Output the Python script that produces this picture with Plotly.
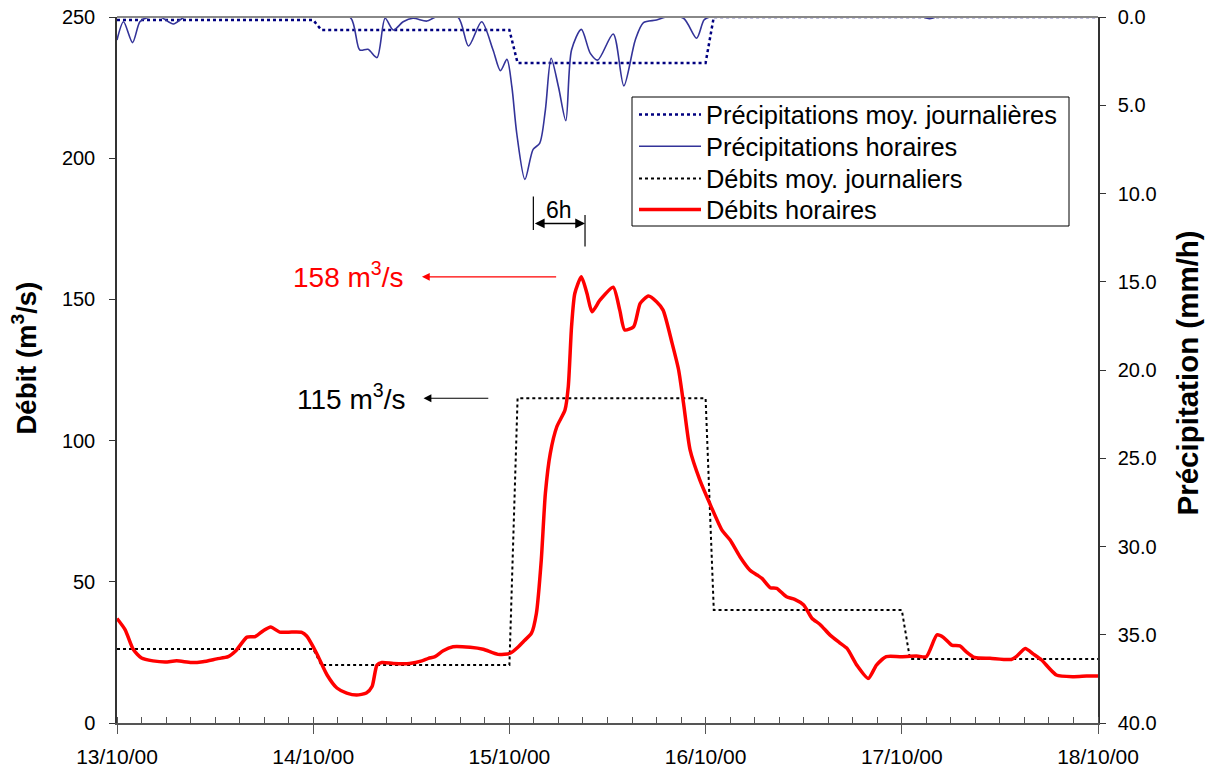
import plotly.graph_objects as go

# ---------------- data ----------------
tick_hours = [0, 24, 48, 72, 96, 120]
tick_labels = ["13/10/00", "14/10/00", "15/10/00", "16/10/00", "17/10/00", "18/10/00"]

# hourly discharge (m3/s), time in hours since 13/10/00 00:00
flow_t = [0, 1, 2, 3, 4.4, 5.9, 7.3, 9.1, 10.5, 12.2,
          13.6, 14.6, 15.9, 16.9, 17.9, 18.8, 19.9, 21.4, 22.6, 23.2,
          24.4, 25.7, 26.9, 28.1, 29.3, 30.5, 31.2, 31.8, 32.4, 33.8,
          35.8, 37.3, 38.1, 38.9, 39.9, 41.1, 43.2, 44.8, 46.6, 48.1,
          49.1, 49.7, 50.7, 51.3, 51.9, 52.4, 53.0, 53.8, 54.8, 55.2,
          55.6, 56.0, 56.8, 57.5, 58.1, 59.1, 60.7, 61.5, 62.1, 63.2,
          64.0, 65.0, 66.0, 66.8, 67.9, 68.7, 69.3, 70.1, 71.3, 72.5,
          74.0, 75.0, 76.2, 77.4, 78.3, 78.9, 79.9, 80.7, 81.9, 82.9,
          84.0, 85.0, 86.0, 87.2, 88.4, 89.3, 90.5, 91.9, 92.9, 94.1,
          95.8, 97.8, 99.0, 100.3, 101.1, 102.1, 103.1, 103.9, 104.9, 106.8,
          109.4, 110.0, 111.1, 112.1, 113.1, 114.9, 117.0, 118.6, 120]
flow_v = [37, 33, 26, 23, 22, 21.6, 22, 21.4, 21.7, 22.7,
          23.5, 25.8, 30.4, 30.6, 32.7, 34, 32.2, 32.2, 32.1, 30.8,
          24.8, 17, 12.4, 10.6, 9.9, 10.6, 12.9, 20.5, 21.4, 21.1,
          21.1, 22, 22.9, 23.5, 25.6, 27, 26.8, 26.1, 24.3, 24.7,
          27, 28.8, 31.8, 38.8, 57.7, 81.3, 95.5, 104.9, 110.8, 119,
          140.3, 152.1, 158, 152, 145.6, 149.8, 154.3, 146.2, 139.2, 140.3,
          148.6, 151.2, 149.2, 146.2, 134.5, 125, 113.2, 96.7, 86, 77.8,
          68.3, 64.8, 58.9, 54.2, 52.4, 51.2, 47.9, 47.7, 44.7, 43.8,
          41.8, 37.1, 34.9, 31.2, 28.4, 26.4, 20.5, 15.8, 20.5, 23.5,
          23.5, 23.7, 23.5, 31.2, 30.3, 27.6, 27.3, 25.2, 23.2, 22.9,
          22.5, 23.5, 26.4, 24.4, 22.3, 17, 16.4, 16.6, 16.6]

# hourly precipitation (mm/h)
rain_t = [0, 0.8, 1.9, 2.8, 3.6, 5.3, 6.9, 8.3, 12, 18,
          24, 28.5, 29.7, 30.7, 31.8, 32.8, 33.8, 35, 36.2, 37.9,
          39, 41.7, 43, 44.6, 46, 46.9, 47.7, 48.3, 48.9, 49.9,
          50.9, 51.7, 52.4, 53.1, 54, 54.9, 55.6, 56.8, 57.9, 58.8,
          60.7, 62, 63.4, 64.4, 66, 67.2, 69.3, 70.9, 71.8, 72.5,
          80, 90, 98.5, 99.4, 100.3, 110, 120]
rain_v = [1.3, 0.27, 1.45, 0.27, 0.05, 0, 0.4, 0, 0, 0,
          0, 0, 1.87, 1.83, 2.3, 0.07, 0.74, 0.27, 0.07, 0.23,
          0, 0, 1.64, 0.27, 1.87, 3.04, 2.4, 3.95, 6.6, 9.2,
          7.5, 7.16, 5.27, 2.34, 3.95, 5.87, 1.87, 0.7, 2.06, 2.44,
          0.96, 3.9, 1.3, 0.32, 0.17, 0, 0.07, 1.2, 0.17, 0,
          0, 0, 0, 0.1, 0, 0, 0]

# daily means (13/10 .. 17/10)
flow_daily = [26.2, 20.5, 115, 40, 22.7]
rain_daily = [0.17, 0.74, 2.6, 0, 0]


def daily_steps(values):
    xs, ys = [], []
    for d, v in enumerate(values):
        xs += [24 * d + (0 if d == 0 else 1), 24 * d + 24]
        ys += [v, v]
    return xs, ys


rd_x, rd_y = daily_steps(rain_daily)
fd_x, fd_y = daily_steps(flow_daily)

FONT = "Liberation Sans, Arial, sans-serif"

# plot-area geometry in window pixels (for paper-coordinate placement)
PL, PR, PT, PB = 117, 1098, 17, 723


def px(xp):
    return (xp - PL) / (PR - PL)


def py(yp):
    return (PB - yp) / (PB - PT)


fig = go.Figure()
fig.add_trace(go.Scatter(x=rd_x, y=rd_y, yaxis="y2", mode="lines", legend="legend",
                         name="Précipitations moy. journalières",
                         line=dict(color="#000080", width=2.5, dash="3px,3px")))
fig.add_trace(go.Scatter(x=rain_t, y=rain_v, yaxis="y2", mode="lines", legend="legend2",
                         name="Précipitations horaires",
                         line=dict(color="#333399", width=1.6, shape="spline", smoothing=0.8)))
fig.add_trace(go.Scatter(x=fd_x, y=fd_y, mode="lines", legend="legend3",
                         name="Débits moy. journaliers",
                         line=dict(color="#000000", width=2, dash="3px,3px")))
fig.add_trace(go.Scatter(x=flow_t, y=flow_v, mode="lines", legend="legend4",
                         name="Débits horaires",
                         line=dict(color="#ff0000", width=3.5, shape="spline", smoothing=0.6)))

legend_rows = [115, 146.7, 179, 210]
legend_common = dict(x=px(634), xanchor="left", yanchor="middle", bgcolor="rgba(0,0,0,0)",
                     borderwidth=0, font=dict(size=25.4, family=FONT), itemwidth=62)

fig.update_layout(
    width=1206, height=778,
    margin=dict(l=PL, r=1206 - PR, t=PT, b=778 - PB),
    paper_bgcolor="white", plot_bgcolor="white",
    font=dict(family=FONT, size=20, color="black"),
    showlegend=True,
    legend=dict(y=py(legend_rows[0]), **legend_common),
    legend2=dict(y=py(legend_rows[1]), **legend_common),
    legend3=dict(y=py(legend_rows[2]), **legend_common),
    legend4=dict(y=py(legend_rows[3]), **legend_common),
    xaxis=dict(range=[0, 120], tickmode="array", tickvals=tick_hours, ticktext=tick_labels,
               automargin=False, tickfont=dict(size=21),
               showgrid=False, zeroline=False, showline=True, linecolor="#555555", linewidth=2,
               ticks="outside", ticklen=9, tickwidth=1, tickcolor="#555555",
               ticklabelstandoff=5,
               minor=dict(tickmode="linear", tick0=0, dtick=3, ticks="inside", ticklen=6,
                          tickwidth=1, tickcolor="#555555", showgrid=False)),
    yaxis=dict(range=[0, 250], dtick=50, showgrid=False, zeroline=False, automargin=False,
               showline=True, linecolor="#333333", linewidth=1.5,
               ticks="outside", ticklen=6, tickcolor="#333333", ticklabelstandoff=10),
    yaxis2=dict(range=[40, 0], dtick=5, tickformat=".1f", overlaying="y", side="right",
                automargin=False,
                showgrid=False, zeroline=False, showline=True, linecolor="#333333", linewidth=1.5,
                ticks="outside", ticklen=6, tickcolor="#333333", ticklabelstandoff=8),
)

# axis titles
fig.add_annotation(xref="paper", yref="paper", x=px(25), y=py(358.5), textangle=-90,
                   xanchor="center", yanchor="middle",
                   text="<b>Débit (m<sup>3</sup>/s)</b>", showarrow=False,
                   font=dict(size=27.5, family=FONT, color="black"))
fig.add_annotation(xref="paper", yref="paper", x=px(1187), y=py(373.5), textangle=-90,
                   xanchor="center", yanchor="middle",
                   text="<b>Précipitation (mm/h)</b>", showarrow=False,
                   font=dict(size=29.5, family=FONT, color="black"))

# legend frame
fig.add_shape(type="rect", xref="paper", yref="paper", x0=px(632), x1=px(1069),
              y0=py(226), y1=py(97), line=dict(color="black", width=1))

# top border of the plot area
fig.add_shape(type="line", xref="paper", yref="paper", x0=0, x1=1, y0=1, y1=1,
              line=dict(color="#888888", width=2))

# 6h lag marker
fig.add_shape(type="line", xref="x", yref="y", x0=50.93, x1=50.93, y0=174.6, y1=186.4,
              line=dict(color="black", width=1.2))
fig.add_shape(type="line", xref="x", yref="y", x0=57.25, x1=57.25, y0=168.7, y1=179.9,
              line=dict(color="black", width=1.2))
fig.add_annotation(x=57.25, y=176.9, ax=50.93, ay=176.9, axref="x", ayref="y",
                   xref="x", yref="y", text="", showarrow=True, arrowside="end+start",
                   arrowhead=2, arrowsize=1.3, arrowwidth=1.5, arrowcolor="black",
                   standoff=0, startstandoff=0)
fig.add_annotation(x=54.1, y=181.7, xref="x", yref="y", text="6h", showarrow=False,
                   font=dict(size=23, color="black", family=FONT))

# peak annotations
fig.add_annotation(x=37.3, y=158, ax=53.9, ay=158, axref="x", ayref="y",
                   xref="x", yref="y", text="", showarrow=True,
                   arrowhead=2, arrowsize=1.3, arrowwidth=1.2, arrowcolor="#ff0000",
                   standoff=0, startstandoff=0)
fig.add_annotation(x=35.3, y=158.6, xref="x", yref="y", xanchor="right", yanchor="middle",
                   text="158 m<sup>3</sup>/s", showarrow=False,
                   font=dict(size=28, color="#ff0000", family=FONT))
fig.add_annotation(x=37.5, y=115, ax=45.6, ay=115, axref="x", ayref="y",
                   xref="x", yref="y", text="", showarrow=True,
                   arrowhead=2, arrowsize=1.3, arrowwidth=1.2, arrowcolor="black",
                   standoff=0, startstandoff=0)
fig.add_annotation(x=35.5, y=115.6, xref="x", yref="y", xanchor="right", yanchor="middle",
                   text="115 m<sup>3</sup>/s", showarrow=False,
                   font=dict(size=28, color="black", family=FONT))

fig.write_html("out.html", config={"displayModeBar": False},
               post_script="document.body.style.margin='0';")
